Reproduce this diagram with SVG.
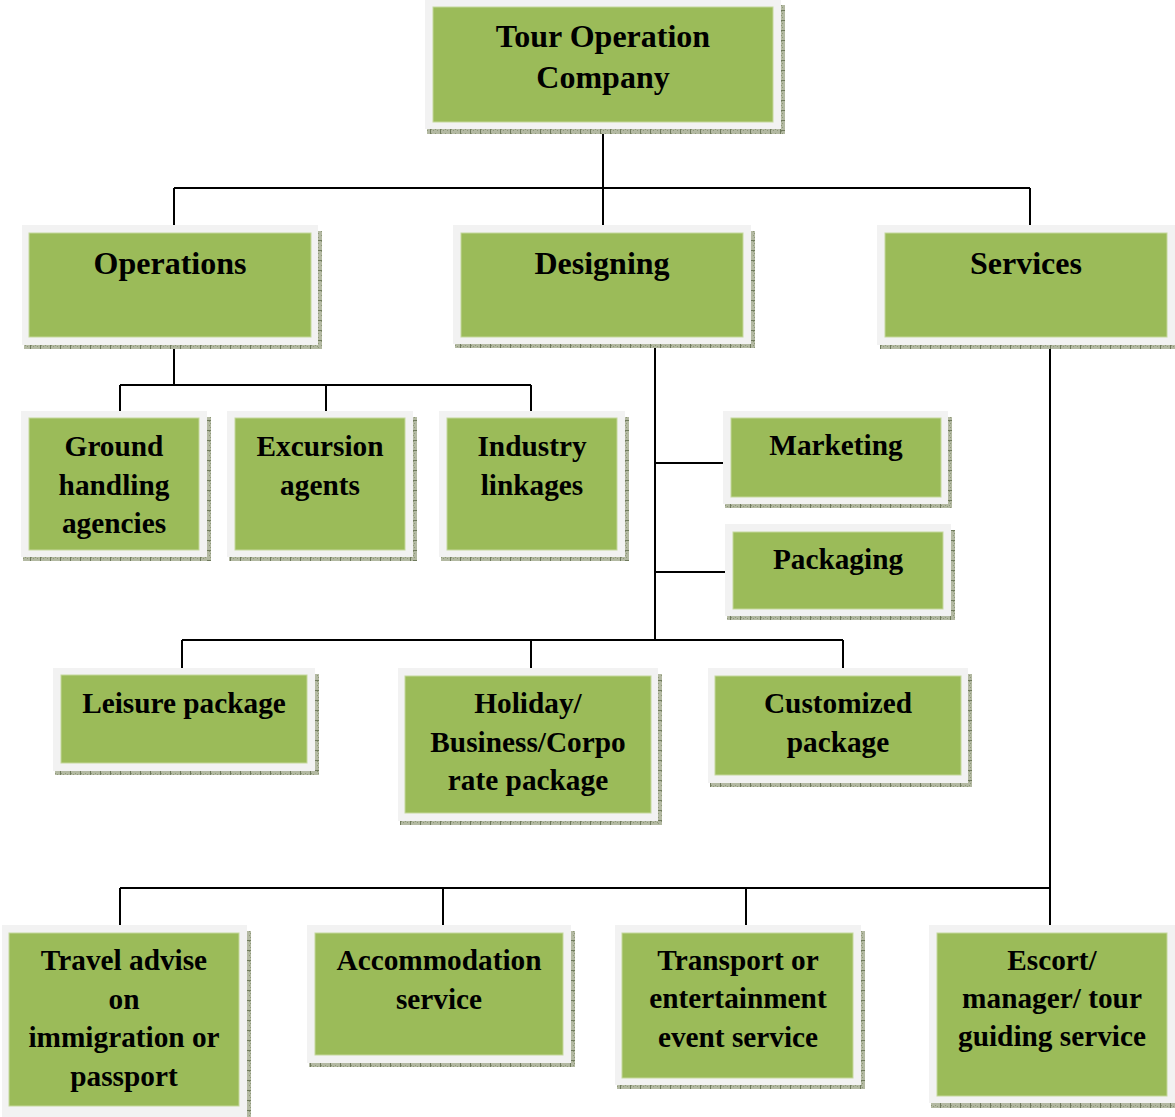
<svg xmlns="http://www.w3.org/2000/svg" width="1175" height="1117" viewBox="0 0 1175 1117">
  <defs>
    <!-- hatched olive strip used as the drop shadow of every box -->
    <pattern id="hatch" width="10" height="4" patternUnits="userSpaceOnUse">
      <rect width="10" height="4" fill="#b3b9a2"/>
      <rect x="1" y="1" width="1" height="1" fill="#8e9878"/>
      <rect x="3" y="2" width="1" height="1" fill="#8e9878"/>
      <rect x="5" y="1" width="1" height="1" fill="#8e9878"/>
      <rect x="7" y="2" width="1" height="1" fill="#8e9878"/>
      <rect x="0" y="0" width="1" height="4" fill="#6f7a5c"/>
    </pattern>
    <pattern id="hatchV" width="4" height="10" patternUnits="userSpaceOnUse">
      <rect width="4" height="10" fill="#b3b9a2"/>
      <rect x="1" y="1" width="1" height="1" fill="#8e9878"/>
      <rect x="2" y="3" width="1" height="1" fill="#8e9878"/>
      <rect x="1" y="5" width="1" height="1" fill="#8e9878"/>
      <rect x="2" y="7" width="1" height="1" fill="#8e9878"/>
      <rect x="0" y="0" width="4" height="1" fill="#6f7a5c"/>
    </pattern>
  </defs>
  <style>
    .frame { fill: #f2f2f2; }
    .fill { fill: #9bbb59; stroke: #c4d79b; stroke-width: 1; }
    .sh { fill: url(#hatch); }
    .shv { fill: url(#hatchV); }
    .lbl { font-family: "Liberation Serif", "Times New Roman", serif; font-weight: bold; fill: #000; text-anchor: middle; }
    .big { font-size: 32px; }
    .small { font-size: 29.3px; }
    .wire { fill: none; stroke: #000; stroke-width: 2; }
  </style>

  <rect width="1175" height="1117" fill="#ffffff"/>

  <!-- connectors -->
  <g id="connectors">
    <path class="wire" d="M603,126 V188 M174,188 H1030 M174,188 V226 M603,188 V226 M1030,188 V226"/>
    <path class="wire" d="M174,344 V385 M120,385 H531 M120,385 V413 M326,385 V413 M531,385 V413"/>
    <path class="wire" d="M655,344 V640 M655,463 H728 M655,572 H729 M182,640 H843 M182,640 V671 M531,640 V671 M843,640 V671"/>
    <path class="wire" d="M1050,344 V929 M120,888 H1050 M120,888 V928 M443,888 V928 M746,888 V928"/>
  </g>

  <!-- top -->
  <g id="tour-operation-company">
    <rect class="sh" x="427" y="129" width="358" height="5"/>
    <rect class="shv" x="781" y="5" width="4" height="129"/>
    <rect class="frame" x="425" y="0" width="356" height="129"/>
    <rect class="fill" x="433" y="7" width="340" height="115"/>
    <text class="lbl big" x="603" y="47">Tour Operation</text>
    <text class="lbl big" x="603" y="88">Company</text>
  </g>

  <!-- level 2 -->
  <g id="operations">
    <rect class="sh" x="24" y="345" width="298" height="4"/>
    <rect class="shv" x="318" y="231" width="4" height="118"/>
    <rect class="frame" x="22" y="225" width="296" height="120"/>
    <rect class="fill" x="29" y="233" width="282" height="104"/>
    <text class="lbl big" x="170" y="274">Operations</text>
  </g>
  <g id="designing">
    <rect class="sh" x="455" y="344" width="298" height="4"/>
    <rect class="shv" x="751" y="231" width="4" height="117"/>
    <rect class="frame" x="453" y="225" width="298" height="119"/>
    <rect class="fill" x="461" y="233" width="282" height="104"/>
    <text class="lbl big" x="602" y="274">Designing</text>
  </g>
  <g id="services">
    <rect class="sh" x="880" y="345" width="295" height="4"/>
    <rect class="frame" x="877" y="225" width="298" height="120"/>
    <rect class="fill" x="885" y="233" width="282" height="104"/>
    <text class="lbl big" x="1026" y="274">Services</text>
  </g>

  <!-- operations children -->
  <g id="ground-handling">
    <rect class="sh" x="23" y="557" width="188" height="4"/>
    <rect class="shv" x="207" y="417" width="4" height="144"/>
    <rect class="frame" x="21" y="411" width="186" height="146"/>
    <rect class="fill" x="29" y="418" width="170" height="132"/>
    <text class="lbl small" x="114" y="456">Ground</text>
    <text class="lbl small" x="114" y="495">handling</text>
    <text class="lbl small" x="114" y="533">agencies</text>
  </g>
  <g id="excursion-agents">
    <rect class="sh" x="229" y="557" width="188" height="4"/>
    <rect class="shv" x="413" y="417" width="4" height="144"/>
    <rect class="frame" x="227" y="411" width="186" height="146"/>
    <rect class="fill" x="235" y="418" width="170" height="132"/>
    <text class="lbl small" x="320" y="456">Excursion</text>
    <text class="lbl small" x="320" y="495">agents</text>
  </g>
  <g id="industry-linkages">
    <rect class="sh" x="441" y="557" width="188" height="4"/>
    <rect class="shv" x="625" y="417" width="4" height="144"/>
    <rect class="frame" x="439" y="411" width="186" height="146"/>
    <rect class="fill" x="447" y="418" width="170" height="132"/>
    <text class="lbl small" x="532" y="456">Industry</text>
    <text class="lbl small" x="532" y="495">linkages</text>
  </g>

  <!-- designing children -->
  <g id="marketing">
    <rect class="sh" x="725" y="504" width="227" height="4"/>
    <rect class="shv" x="948" y="417" width="4" height="91"/>
    <rect class="frame" x="723" y="411" width="225" height="93"/>
    <rect class="fill" x="731" y="418" width="210" height="79"/>
    <text class="lbl small" x="836" y="455">Marketing</text>
  </g>
  <g id="packaging">
    <rect class="sh" x="727" y="616" width="228" height="4"/>
    <rect class="shv" x="951" y="530" width="4" height="90"/>
    <rect class="frame" x="725" y="524" width="226" height="92"/>
    <rect class="fill" x="733" y="532" width="210" height="77"/>
    <text class="lbl small" x="838" y="569">Packaging</text>
  </g>
  <g id="leisure-package">
    <rect class="sh" x="55" y="771" width="264" height="4"/>
    <rect class="shv" x="315" y="674" width="4" height="101"/>
    <rect class="frame" x="53" y="668" width="262" height="103"/>
    <rect class="fill" x="61" y="675" width="246" height="88"/>
    <text class="lbl small" x="184" y="713">Leisure package</text>
  </g>
  <g id="holiday-package">
    <rect class="sh" x="400" y="821" width="262" height="4"/>
    <rect class="shv" x="658" y="674" width="4" height="151"/>
    <rect class="frame" x="398" y="668" width="260" height="153"/>
    <rect class="fill" x="405" y="676" width="246" height="137"/>
    <text class="lbl small" x="528" y="713">Holiday/</text>
    <text class="lbl small" x="528" y="752">Business/Corpo</text>
    <text class="lbl small" x="528" y="790">rate package</text>
  </g>
  <g id="customized-package">
    <rect class="sh" x="710" y="783" width="262" height="4"/>
    <rect class="shv" x="968" y="674" width="4" height="113"/>
    <rect class="frame" x="708" y="668" width="260" height="115"/>
    <rect class="fill" x="715" y="676" width="246" height="99"/>
    <text class="lbl small" x="838" y="713">Customized</text>
    <text class="lbl small" x="838" y="752">package</text>
  </g>

  <!-- services children -->
  <g id="travel-advise">
    <rect class="shv" x="247" y="931" width="4" height="186"/>
    <rect class="frame" x="2" y="925" width="245" height="192"/>
    <rect class="fill" x="9" y="933" width="230" height="173"/>
    <text class="lbl small" x="124" y="970">Travel advise</text>
    <text class="lbl small" x="124" y="1009">on</text>
    <text class="lbl small" x="124" y="1047">immigration or</text>
    <text class="lbl small" x="124" y="1086">passport</text>
  </g>
  <g id="accommodation-service">
    <rect class="sh" x="309" y="1063" width="266" height="4"/>
    <rect class="shv" x="571" y="931" width="4" height="136"/>
    <rect class="frame" x="307" y="925" width="264" height="138"/>
    <rect class="fill" x="315" y="933" width="248" height="122"/>
    <text class="lbl small" x="439" y="970">Accommodation</text>
    <text class="lbl small" x="439" y="1009">service</text>
  </g>
  <g id="transport-service">
    <rect class="sh" x="617" y="1085" width="248" height="4"/>
    <rect class="shv" x="861" y="931" width="4" height="158"/>
    <rect class="frame" x="615" y="925" width="246" height="160"/>
    <rect class="fill" x="622" y="933" width="231" height="145"/>
    <text class="lbl small" x="738" y="970">Transport or</text>
    <text class="lbl small" x="738" y="1008">entertainment</text>
    <text class="lbl small" x="738" y="1047">event service</text>
  </g>
  <g id="escort-service">
    <rect class="sh" x="931" y="1103" width="244" height="5"/>
    <rect class="frame" x="929" y="925" width="246" height="178"/>
    <rect class="fill" x="937" y="933" width="230" height="163"/>
    <text class="lbl small" x="1052" y="970">Escort/</text>
    <text class="lbl small" x="1052" y="1008">manager/ tour</text>
    <text class="lbl small" x="1052" y="1046">guiding service</text>
  </g>
</svg>
